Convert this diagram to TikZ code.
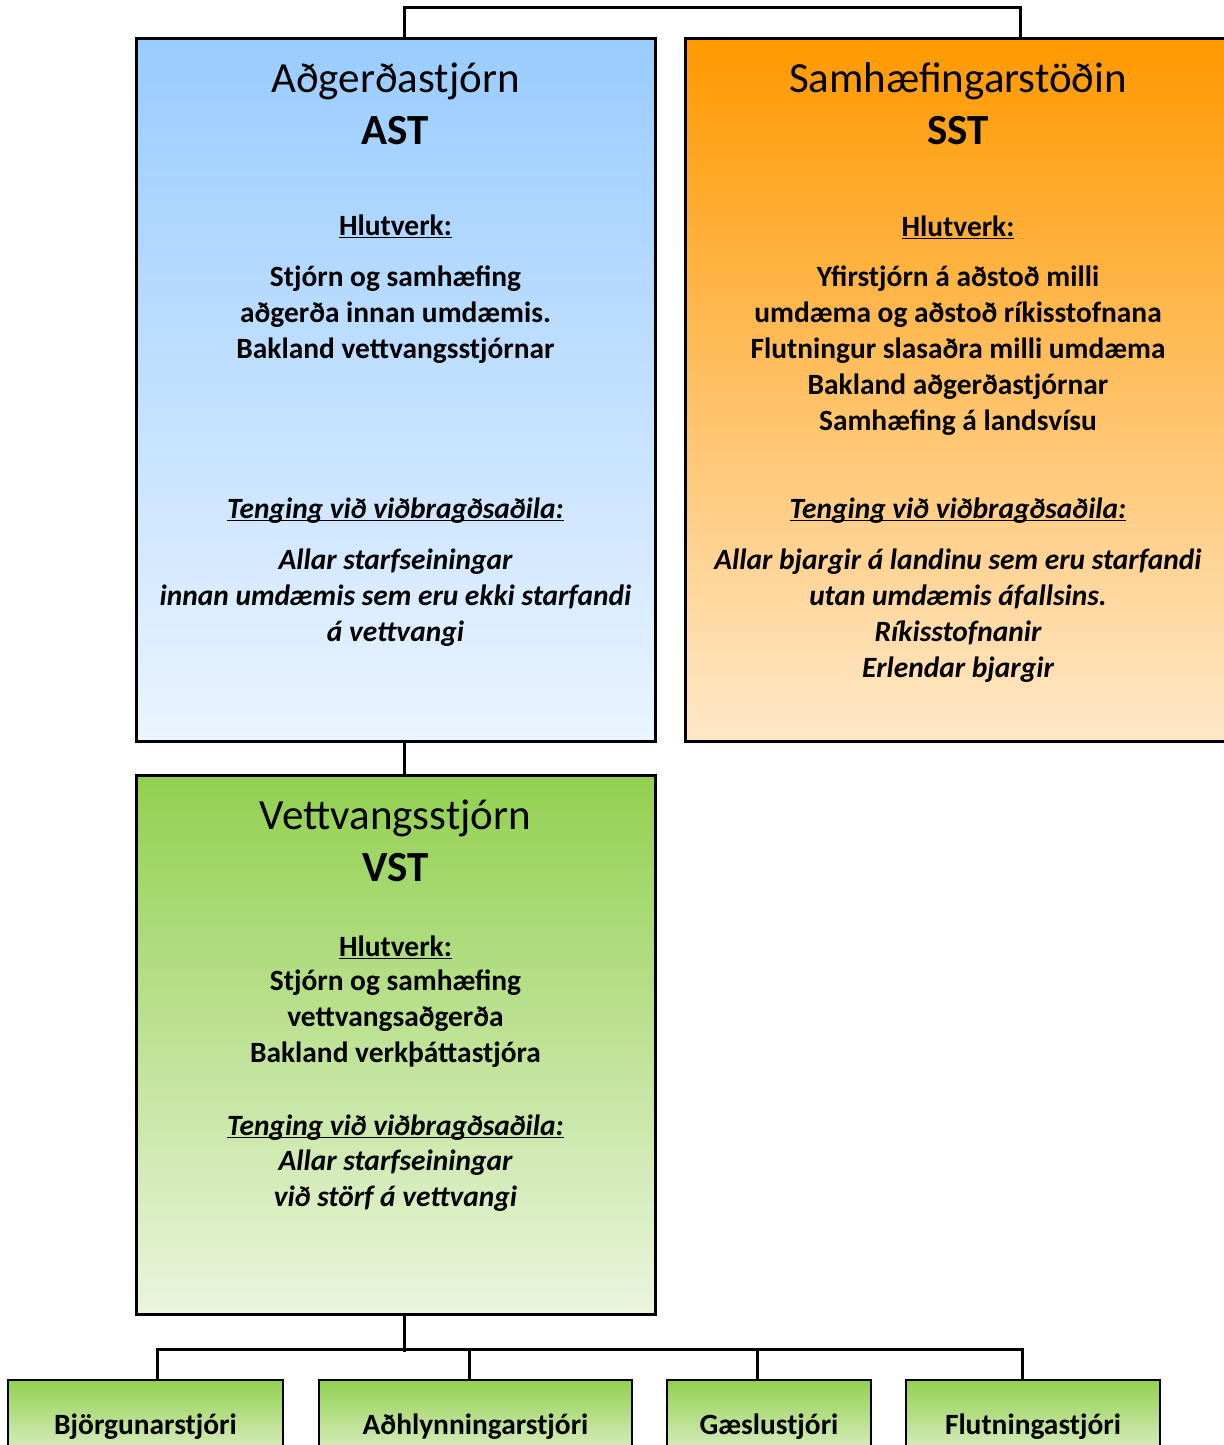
\documentclass[tikz,border=0pt]{standalone}
\usepackage{fontspec}
\setmainfont{Carlito}
\usepackage{tikz}

\definecolor{bluetop}{RGB}{153,204,255}
\definecolor{bluebot}{RGB}{234,244,255}
\definecolor{orangetop}{RGB}{255,153,0}
\definecolor{orangebot}{RGB}{255,232,200}
\definecolor{greentop}{RGB}{146,208,80}
\definecolor{greenbot}{RGB}{235,245,221}

\newcommand{\undertext}[1]{\underline{\smash{#1}}}

\begin{document}
\begin{tikzpicture}[x=0.5pt, y=-0.5pt,
        bigbox/.style={draw, line width=1.5pt, inner sep=0pt, minimum width=259.5pt},
        smallbox/.style={draw, line width=1pt, inner sep=0pt, minimum height=45pt, top color=greentop, bottom color=greenbot},
        link/.style={line width=1.5pt},
        heading/.style={font=\fontsize{21.5}{26}\selectfont, align=center},
        body/.style={font=\bfseries\fontsize{14.7}{18}\selectfont, align=center},
        bodyit/.style={font=\bfseries\itshape\fontsize{14.7}{18}\selectfont, align=center},
        leaf/.style={font=\bfseries\fontsize{14.7}{18}\selectfont}]

        \useasboundingbox (0,0) rectangle (1224,1445);

        % --- TOP ROW ---
        % (1) Adgerdastjorn
        \node[bigbox, minimum height=351pt, top color=bluetop, bottom color=bluebot] (ast) at (395.5,390) {};
        \node[heading] (asthead) at (395.5,104) {Aðgerðastjórn\\\textbf{AST}};
        \node[body] (astrole) at (395.5,237) {\undertext{Hlutverk:}};
        \node[body] (asttasks) at (395.5,315) {Stjórn og samhæfing\\aðgerða innan umdæmis.\\Bakland vettvangsstjórnar};
        \node[bodyit] (astlink) at (395.5,520) {\undertext{Tenging við viðbragðsaðila:}};
        \node[bodyit] (astunits) at (395.5,598) {Allar starfseiningar\\innan umdæmis sem eru ekki starfandi\\á vettvangi};

        % (2) Samhaefingarstodin
        \node[bigbox, minimum width=273pt, minimum height=351pt, top color=orangetop, bottom color=orangebot] (sst) at (958,390) {};
        \node[heading] (ssthead) at (958,104) {Samhæfingarstöðin\\\textbf{SST}};
        \node[body] (sstrole) at (958,238) {\undertext{Hlutverk:}};
        \node[body] (ssttasks) at (958,351) {Yfirstjórn á aðstoð milli\\umdæma og aðstoð ríkisstofnana\\Flutningur slasaðra milli umdæma\\Bakland aðgerðastjórnar\\Samhæfing á landsvísu};
        \node[bodyit] (sstlink) at (958,520) {\undertext{Tenging við viðbragðsaðila:}};
        \node[bodyit] (sstunits) at (958,616) {Allar bjargir á landinu sem eru starfandi\\utan umdæmis áfallsins.\\Ríkisstofnanir\\Erlendar bjargir};

        % --- MIDDLE ROW ---
        % (3) Vettvangsstjorn
        \node[bigbox, minimum height=269.5pt, top color=greentop, bottom color=greenbot] (vst) at (395.5,1044.5) {};
        \node[heading] (vsthead) at (395.5,841) {Vettvangsstjórn\\\textbf{VST}};
        \node[body] (vstrole) at (395.5,958) {\undertext{Hlutverk:}};
        \node[body] (vsttasks) at (395.5,1019) {Stjórn og samhæfing\\vettvangsaðgerða\\Bakland verkþáttastjóra};
        \node[bodyit] (vstlink) at (395.5,1137) {\undertext{Tenging við viðbragðsaðila:}};
        \node[bodyit] (vstunits) at (395.5,1181) {Allar starfseiningar\\við störf á vettvangi};

        % --- BOTTOM ROW ---
        \node[smallbox, minimum width=137.5pt] (bjorg) at (145.5,1425) {};
        \node[smallbox, minimum width=156.5pt] (adhl) at (475.5,1425) {};
        \node[smallbox, minimum width=102pt] (gaesl) at (769,1425) {};
        \node[smallbox, minimum width=127pt] (flutn) at (1033,1425) {};
        \node[leaf] (bjorgtxt) at (145.5,1427) {Björgunarstjóri};
        \node[leaf] (adhltxt) at (475.5,1427) {Aðhlynningarstjóri};
        \node[leaf] (gaesltxt) at (769,1427) {Gæslustjóri};
        \node[leaf] (flutntxt) at (1033,1427) {Flutningastjóri};

        % --- CONNECTORS ---
        \draw[link] ([xshift=4.25pt]ast.north) -- ++(0,-30) -| ([xshift=31pt]sst.north);
        \draw[link] ([xshift=4.25pt]ast.south) -- ([xshift=4.25pt]vst.north);
        \draw[link] ([xshift=4.25pt]vst.south) -- ++(0,36);
        \draw[link] ([xshift=5.75pt]bjorg.north) -- ++(0,-30) -| ([xshift=-5.5pt]flutn.north);
        \draw[link] ([xshift=-3.25pt]adhl.north) -- ++(0,-30);
        \draw[link] ([xshift=-6pt]gaesl.north) -- ++(0,-30);

    \end{tikzpicture}
\end{document}
